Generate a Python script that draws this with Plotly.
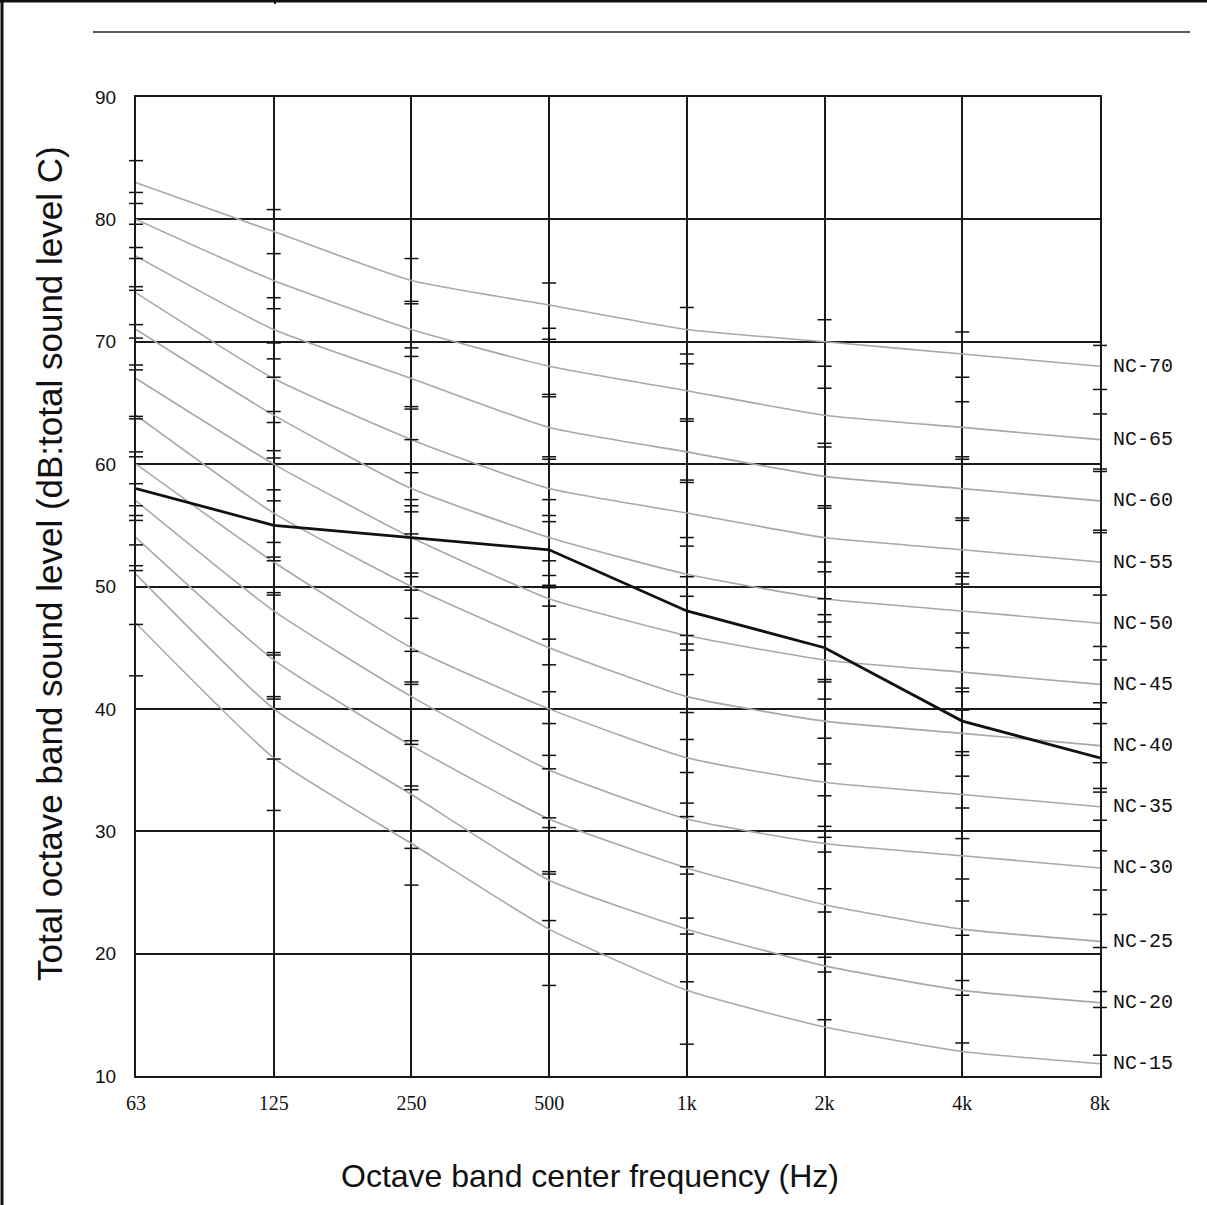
import plotly.graph_objects as go

# ---------------- data ----------------
bands = ["63", "125", "250", "500", "1k", "2k", "4k", "8k"]

nc70 = [83, 79, 75, 73, 71, 70, 69, 68]
nc65 = [80, 75, 71, 68, 66, 64, 63, 62]
nc60 = [77, 71, 67, 63, 61, 59, 58, 57]
nc55 = [74, 67, 62, 58, 56, 54, 53, 52]
nc50 = [71, 64, 58, 54, 51, 49, 48, 47]
nc45 = [67, 60, 54, 49, 46, 44, 43, 42]
nc40 = [64, 56, 50, 45, 41, 39, 38, 37]
nc35 = [60, 52, 45, 40, 36, 34, 33, 32]
nc30 = [57, 48, 41, 35, 31, 29, 28, 27]
nc25 = [54, 44, 37, 31, 27, 24, 22, 21]
nc20 = [51, 40, 33, 26, 22, 19, 17, 16]
nc15 = [47, 36, 29, 22, 17, 14, 12, 11]
nc_names = ["NC-70", "NC-65", "NC-60", "NC-55", "NC-50", "NC-45",
            "NC-40", "NC-35", "NC-30", "NC-25", "NC-20", "NC-15"]

measured = [58, 55, 54, 53, 48, 45, 39, 36]

ticks63 = [84.8, 82.2, 81.3, 79.6, 77.7, 76.8, 74.5, 74.2, 71.4, 70.3, 68.1, 67.7,
           63.9, 63.7, 61.0, 60.6, 58.4, 56.6, 55.8, 55.4, 53.4, 51.7, 51.3, 46.9, 42.7]
ticks125 = [80.8, 77.2, 73.6, 72.7, 69.9, 68.6, 67.1, 64.3, 63.4, 61.1, 60.5, 57.9,
            57.0, 53.6, 52.4, 52.1, 49.5, 49.3, 44.6, 44.4, 41.0, 40.8, 35.9, 31.7]
ticks250 = [76.8, 73.3, 73.1, 69.5, 68.8, 64.7, 64.5, 62.0, 59.3, 57.1, 56.6, 56.1,
            54.3, 51.1, 50.8, 49.7, 47.4, 44.7, 42.2, 42.0, 37.4, 37.1, 33.7, 33.4,
            28.6, 25.6]
ticks500 = [74.8, 71.1, 70.2, 70.0, 65.7, 65.5, 60.6, 60.4, 57.1, 55.8, 55.3, 52.1,
            50.9, 50.1, 49.9, 48.4, 45.7, 43.6, 41.4, 38.8, 36.2, 35.1, 31.1, 30.3,
            26.7, 26.5, 22.7, 17.4]
ticks1k = [72.8, 69.0, 68.2, 63.7, 63.5, 58.7, 58.5, 54.0, 53.3, 50.8, 49.2, 46.0,
           45.3, 44.8, 42.8, 39.7, 37.5, 34.8, 32.3, 31.2, 27.1, 26.5, 22.9, 21.6,
           17.7, 12.6]
ticks2k = [71.8, 68.0, 66.2, 61.7, 61.4, 56.6, 56.4, 52.0, 51.2, 49.0, 47.7, 47.1,
           45.9, 42.4, 42.2, 40.8, 37.6, 35.5, 32.9, 30.4, 29.5, 28.3, 25.3, 23.4,
           19.7, 18.5, 14.6]
ticks4k = [70.8, 67.1, 65.1, 60.6, 60.4, 55.6, 55.4, 51.1, 50.8, 50.2, 46.2, 45.0,
           41.7, 41.4, 39.9, 36.5, 36.2, 34.5, 31.9, 29.4, 26.1, 24.3, 21.5, 17.8,
           16.6, 12.7]
ticks8k = [69.7, 66.1, 64.1, 59.6, 59.4, 54.6, 54.4, 49.3, 45.1, 44.0, 40.5, 38.8,
           35.6, 33.5, 33.2, 30.9, 28.4, 25.2, 23.2, 20.5, 16.9, 15.6, 11.7]

y_ticks = [10, 20, 30, 40, 50, 60, 70, 80, 90]

# ---------------- figure ----------------
W, H = 1207, 1205
ML, MR, MT, MB = 136, 107, 97, 129
PW, PH = W - ML - MR, H - MT - MB


def px(x):
    return (x - ML) / PW


def py(y):
    return (H - MB - y) / PH


xpos = list(range(len(bands)))
fig = go.Figure()

nc_curves = [nc70, nc65, nc60, nc55, nc50, nc45, nc40, nc35, nc30, nc25, nc20, nc15]
for name, vals in zip(nc_names, nc_curves):
    fig.add_trace(go.Scatter(
        x=xpos, y=vals, mode="lines", name=name,
        line=dict(color="#a8a8a8", width=1.6, shape="spline", smoothing=0.5),
        hoverinfo="skip"))

tick_lists = [ticks63, ticks125, ticks250, ticks500, ticks1k, ticks2k, ticks4k, ticks8k]
tx, ty = [], []
for i, tl in enumerate(tick_lists):
    tx += [i] * len(tl)
    ty += tl
fig.add_trace(go.Scatter(
    x=tx, y=ty, mode="markers", cliponaxis=False,
    marker=dict(symbol="line-ew", size=10, line=dict(color="#111111", width=1.5)),
    hoverinfo="skip"))

fig.add_trace(go.Scatter(
    x=xpos, y=measured, mode="lines",
    line=dict(color="#111111", width=2.8), hoverinfo="skip"))

for name, vals in zip(nc_names, nc_curves):
    fig.add_annotation(x=xpos[-1], y=vals[-1], xref="x", yref="y",
                       text=name, showarrow=False, xanchor="left", yanchor="middle",
                       xshift=11, font=dict(family="Liberation Mono", size=20, color="#111111"))

fig.add_annotation(x=px(590), y=py(1176), xref="paper", yref="paper",
                   xanchor="center", yanchor="middle",
                   text="Octave band center frequency (Hz)", showarrow=False,
                   font=dict(family="Liberation Sans", size=32, color="#111111"))
fig.add_annotation(x=px(49), y=py(564), xref="paper", yref="paper",
                   xanchor="center", yanchor="middle",
                   text="Total octave band sound level (dB:total sound level C)",
                   textangle=-90, showarrow=False,
                   font=dict(family="Liberation Sans", size=35, color="#111111"))

shapes = [
    dict(type="line", xref="paper", yref="paper", x0=px(93), x1=px(1190),
         y0=py(32), y1=py(32), line=dict(color="#222222", width=1.5)),
    dict(type="line", xref="paper", yref="paper", x0=px(0), x1=px(1207),
         y0=py(1), y1=py(1), line=dict(color="#111111", width=3)),
    dict(type="line", xref="paper", yref="paper", x0=px(2), x1=px(2),
         y0=py(0), y1=py(1205), line=dict(color="#111111", width=3)),
    dict(type="line", xref="paper", yref="paper", x0=px(275), x1=px(275),
         y0=py(0), y1=py(4), line=dict(color="#111111", width=2)),
]

fig.update_layout(
    width=W, height=H, margin=dict(l=ML, r=MR, t=MT, b=MB),
    paper_bgcolor="white", plot_bgcolor="white", showlegend=False,
    shapes=shapes,
    xaxis=dict(range=[0, len(bands) - 1], tickvals=xpos, ticktext=bands,
               showgrid=True, gridcolor="#1a1a1a", gridwidth=2,
               showline=True, linecolor="#1a1a1a", linewidth=2, mirror=True,
               zeroline=False, ticks="", ticklabelstandoff=8,
               tickfont=dict(family="Liberation Serif", size=20, color="#111111")),
    yaxis=dict(range=[10, 90], tickvals=y_ticks,
               showgrid=True, gridcolor="#1a1a1a", gridwidth=1.5,
               showline=True, linecolor="#1a1a1a", linewidth=2, mirror=True,
               zeroline=False, ticks="", ticklabelstandoff=14,
               tickfont=dict(family="Liberation Sans", size=19, color="#111111")),
)

fig.write_html("out.html")
